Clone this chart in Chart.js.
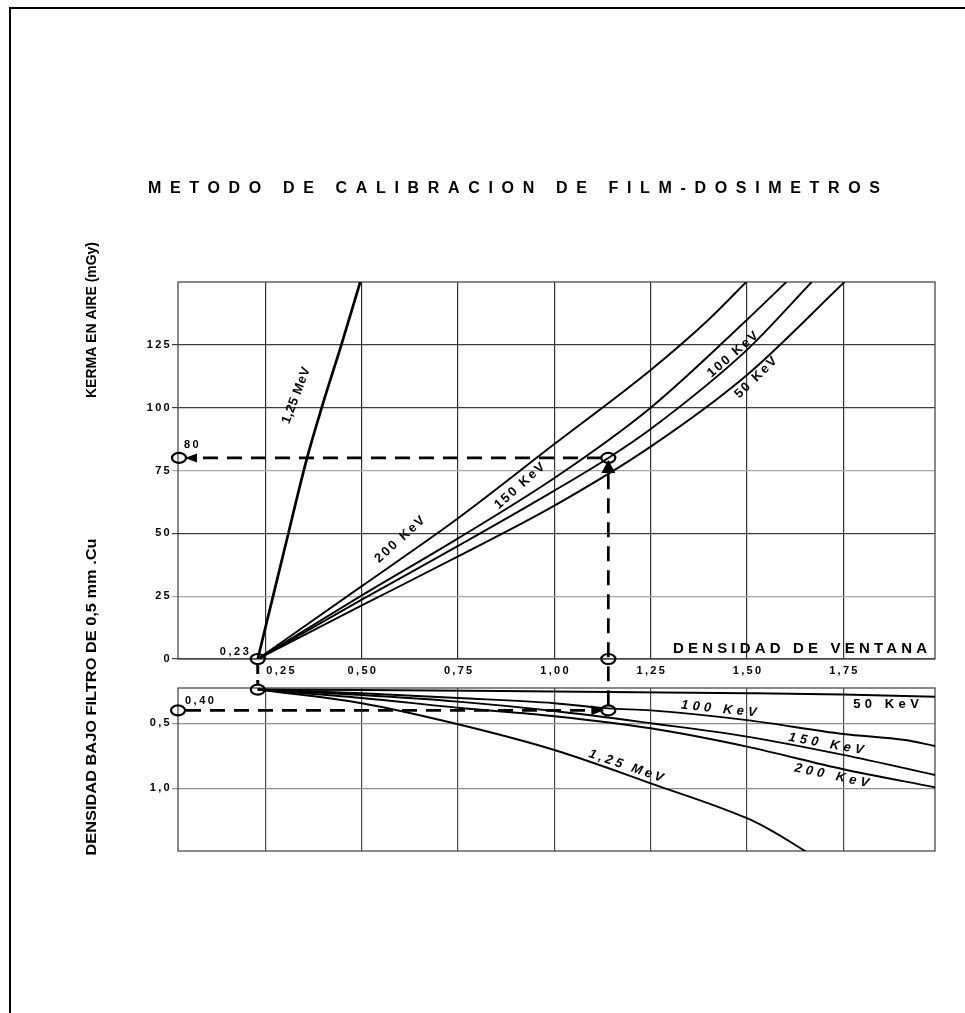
<!DOCTYPE html>
<html>
<head>
<meta charset="utf-8">
<title>Metodo de calibracion de film-dosimetros</title>
<script src="https://cdn.jsdelivr.net/npm/chart.js@4.4.1/dist/chart.umd.min.js"></script>
<style>
  html, body { margin: 0; padding: 0; background: #fff; }
  #hoja { position: relative; width: 965px; height: 1013px; overflow: hidden; background: #fff; }
  #marco { position: absolute; left: 9px; top: 7px; width: 960px; height: 1010px;
           border-left: 2px solid #000; border-top: 2px solid #000; }
  canvas { position: absolute; left: 0; top: 0; }
</style>
</head>
<body>
<div id="hoja">
  <div id="marco"></div>
  <canvas id="kerma" width="965" height="1013"></canvas>
  <canvas id="filtro" width="965" height="1013"></canvas>
</div>
<script>
// ---- Ejes -------------------------------------------------------------
const ticksVentana = [0.25, 0.50, 0.75, 1.00, 1.25, 1.50, 1.75];
const etiquetasVentana = ['0,25', '0,50', '0,75', '1,00', '1,25', '1,50', '1,75'];
const ticksKerma = [0, 25, 50, 75, 100, 125];
const etiquetasKerma = ['0', '25', '50', '75', '100', '125'];
const ticksFiltro = [0.5, 1.0];
const etiquetasFiltro = ['0,5', '1,0'];

// ---- Kerma en aire (mGy) frente a densidad de ventana ------------------
const ventanaK_125MeV = [0.23, 0.30, 0.358, 0.396, 0.447, 0.496];
const kerma_125MeV    = [0, 44, 80, 100, 125, 150];
const ventanaK_200keV = [0.23, 0.50, 0.75, 1.00, 1.25, 1.40, 1.498];
const kerma_200keV    = [0, 29, 56, 85.5, 115, 135, 150];
const ventanaK_150keV = [0.23, 0.50, 0.75, 1.00, 1.25, 1.50, 1.602];
const kerma_150keV    = [0, 25.3, 48, 72, 100, 135, 150];
const ventanaK_100keV = [0.23, 0.50, 0.75, 1.00, 1.14, 1.25, 1.50, 1.668];
const kerma_100keV    = [0, 23.6, 45, 67, 80, 91.5, 123, 150];
const ventanaK_50keV  = [0.23, 0.50, 0.75, 1.00, 1.25, 1.50, 1.753];
const kerma_50keV     = [0, 21.3, 40.8, 61, 84.5, 113, 150];

// ---- Densidad bajo filtro de 0,5 mm Cu frente a densidad de ventana ----
const ventanaF_125MeV = [0.23, 0.50, 0.75, 1.00, 1.25, 1.50, 1.56, 1.655];
const filtro_125MeV   = [0.24, 0.345, 0.507, 0.705, 0.961, 1.23, 1.32, 1.49];
const ventanaF_200keV = [0.23, 0.50, 0.75, 1.00, 1.25, 1.50, 1.75, 1.988];
const filtro_200keV   = [0.24, 0.305, 0.38, 0.445, 0.538, 0.679, 0.853, 0.992];
const ventanaF_150keV = [0.23, 0.50, 0.75, 1.00, 1.25, 1.50, 1.75, 1.988];
const filtro_150keV   = [0.24, 0.282, 0.333, 0.405, 0.499, 0.602, 0.743, 0.897];
const ventanaF_100keV = [0.23, 0.50, 0.75, 1.00, 1.14, 1.25, 1.50, 1.75, 1.91, 1.988];
const filtro_100keV   = [0.24, 0.268, 0.305, 0.345, 0.385, 0.40, 0.475, 0.582, 0.628, 0.674];
const ventanaF_50keV  = [0.23, 0.50, 1.00, 1.50, 1.75, 1.988];
const filtro_50keV    = [0.24, 0.243, 0.255, 0.268, 0.278, 0.295];

// ---- Ejemplo de lectura ------------------------------------------------
const densidadBase   = 0.23;   // velo de base en ventana
const filtroBase     = 0.24;   // velo de base bajo filtro
const lecturaFiltro  = 0.40;
const lecturaVentana = 1.14;
const lecturaKerma   = 80;

// Rango de los ejes
const ventanaMin = 0.023, ventanaMax = 1.988;
const kermaMin = 0, kermaMax = 150;
const filtroMin = 0.228, filtroMax = 1.482;

const F = '"Liberation Sans", Arial, Helvetica, sans-serif';

function pares(xs, ys) { return xs.map((x, i) => ({ x: x, y: ys[i] })); }
function serie(nombre, xs, ys, ancho) {
  return { label: nombre, data: pares(xs, ys), borderColor: '#000', borderWidth: ancho,
           pointRadius: 0, showLine: true, fill: false, cubicInterpolationMode: 'monotone' };
}

// Texto con espaciado entre letras; si se da "ancho", el espaciado se ajusta a ese ancho
function texto(ctx, t, x, y, o) {
  ctx.save();
  ctx.font = o.font;
  ctx.letterSpacing = '0px';
  const n = [...t].length;
  const natural = ctx.measureText(t).width;
  let esp = o.ls || 0;
  if (o.ancho != null && n > 1) esp = (o.ancho - natural) / (n - 1);
  ctx.letterSpacing = esp + 'px';
  const total = natural + esp * (n - 1);
  ctx.translate(x, y);
  if (o.ang) ctx.rotate(o.ang * Math.PI / 180);
  ctx.textAlign = 'left';
  ctx.textBaseline = o.base || 'alphabetic';
  ctx.fillStyle = '#000';
  const al = o.align || 'left';
  const x0 = al === 'left' ? 0 : (al === 'center' ? -total / 2 : -total);
  ctx.fillText(t, x0, 0);
  ctx.restore();
}
// Texto girado y escalado horizontalmente a un ancho dado
function textoAjustado(ctx, t, cx, cy, font, ancho, ang) {
  ctx.save();
  ctx.font = font;
  ctx.letterSpacing = '0px';
  const natural = ctx.measureText(t).width;
  ctx.translate(cx, cy);
  ctx.rotate(ang * Math.PI / 180);
  ctx.scale(ancho / natural, 1);
  ctx.textAlign = 'center';
  ctx.textBaseline = 'middle';
  ctx.fillStyle = '#000';
  ctx.fillText(t, 0, 0);
  ctx.restore();
}
function elipse(ctx, x, y) {
  ctx.save();
  ctx.beginPath();
  ctx.ellipse(x, y, 7, 5, 0, 0, Math.PI * 2);
  ctx.lineWidth = 2.2;
  ctx.strokeStyle = '#000';
  ctx.stroke();
  ctx.restore();
}
function flecha(ctx, x, y, dir, largo, medio) {
  ctx.save();
  ctx.beginPath();
  ctx.fillStyle = '#000';
  if (dir === 'izq') { ctx.moveTo(x, y); ctx.lineTo(x + largo, y - medio); ctx.lineTo(x + largo, y + medio); }
  if (dir === 'der') { ctx.moveTo(x, y); ctx.lineTo(x - largo, y - medio); ctx.lineTo(x - largo, y + medio); }
  if (dir === 'arr') { ctx.moveTo(x, y); ctx.lineTo(x - medio, y + largo); ctx.lineTo(x + medio, y + largo); }
  ctx.closePath();
  ctx.fill();
  ctx.restore();
}
function marcoArea(ctx, a) {
  ctx.save();
  ctx.strokeStyle = '#4a4a4a';
  ctx.lineWidth = 1.3;
  ctx.strokeRect(a.left, a.top, a.right - a.left, a.bottom - a.top);
  ctx.restore();
}

function ejeVentana(colorLinea) {
  return {
    type: 'linear', min: ventanaMin, max: ventanaMax,
    afterBuildTicks: s => { s.ticks = ticksVentana.map(v => ({ value: v })); },
    afterFit: s => { s.height = 0; },
    ticks: { display: false },
    grid: { color: colorLinea, lineWidth: 1.2, drawTicks: false },
    border: { display: false }
  };
}

const fuenteTick = { family: F, size: 11, weight: 'bold' };

// ---- Gráfico superior: kerma -------------------------------------------
const decorKerma = {
  id: 'decorKerma',
  beforeDraw(chart) { chart.ctx.letterSpacing = '2.3px'; },
  beforeDatasetsDraw(chart) { marcoArea(chart.ctx, chart.chartArea); },
  afterDraw(chart) {
    const ctx = chart.ctx;
    const xs = chart.scales.x, ys = chart.scales.y;
    texto(ctx, 'METODO DE CALIBRACION DE FILM-DOSIMETROS', 148, 193,
          { font: 'bold 16px ' + F, ancho: 732 });
    textoAjustado(ctx, 'KERMA EN AIRE (mGy)', 92, 320, 'bold 14px ' + F, 156, -90);
    texto(ctx, 'DENSIDAD DE VENTANA', 673, 652.5, { font: 'bold 15px ' + F, ancho: 254 });
    ticksVentana.forEach((v, i) => {
      const dx = i === 0 ? 15 : 0;
      texto(ctx, etiquetasVentana[i], xs.getPixelForValue(v) + dx, 673.5,
            { font: 'bold 11px ' + F, ls: 2.3, align: 'center' });
    });
    const rot = [
      ['1,25 MeV', 0.330, 104.8, -69, 0.5],
      ['200 KeV', 0.599, 47.5, -42, 2],
      ['150 KeV', 0.910, 68.8, -41.6, 2],
      ['100 KeV', 1.463, 121.1, -41, 2],
      ['50 KeV', 1.523, 111.9, -44, 2]
    ];
    rot.forEach(r => texto(ctx, r[0], xs.getPixelForValue(r[1]), ys.getPixelForValue(r[2]),
      { font: 'bold 13px ' + F, ls: r[4], align: 'center', base: 'middle', ang: r[3] }));
  }
};

const graficoKerma = new Chart(document.getElementById('kerma'), {
  type: 'scatter',
  data: {
    datasets: [
      serie('1,25 MeV', ventanaK_125MeV, kerma_125MeV, 2.7),
      serie('200 KeV', ventanaK_200keV, kerma_200keV, 1.9),
      serie('150 KeV', ventanaK_150keV, kerma_150keV, 1.9),
      serie('100 KeV', ventanaK_100keV, kerma_100keV, 1.9),
      serie('50 KeV', ventanaK_50keV, kerma_50keV, 1.9)
    ]
  },
  options: {
    responsive: false, animation: false, devicePixelRatio: 1, events: [],
    layout: { padding: { left: 0, top: 282, right: 30, bottom: 354 } },
    plugins: { legend: { display: false }, tooltip: { enabled: false }, title: { display: false } },
    scales: {
      x: ejeVentana('#333'),
      y: {
        type: 'linear', min: kermaMin, max: kermaMax,
        afterBuildTicks: s => { s.ticks = ticksKerma.map(v => ({ value: v })); },
        afterFit: s => { s.width = 178; },
        ticks: { color: '#000', font: fuenteTick, padding: 0,
                 callback: (v, i) => etiquetasKerma[i] },
        grid: { color: c => (c.tick && (c.tick.value === 75 || c.tick.value === 25)) ? '#a8a8a8' : '#3c3c3c',
                lineWidth: 1.2, tickLength: 6, drawTicks: true },
        border: { display: false }
      }
    }
  },
  plugins: [decorKerma]
});

// ---- Gráfico inferior: densidad bajo filtro ----------------------------
const decorFiltro = {
  id: 'decorFiltro',
  beforeDraw(chart) { chart.ctx.letterSpacing = '2.3px'; },
  beforeDatasetsDraw(chart) { marcoArea(chart.ctx, chart.chartArea); },
  afterDraw(chart) {
    const ctx = chart.ctx;
    const xb = chart.scales.x, yb = chart.scales.y;
    const xa = graficoKerma.scales.x, ya = graficoKerma.scales.y;

    textoAjustado(ctx, 'DENSIDAD BAJO FILTRO DE 0,5 mm .Cu', 92, 697, 'bold 14px ' + F, 317, -90);

    const rot = [
      ['100 KeV', 1.427, 0.389, 6, 4.2, 'italic bold'],
      ['50 KeV', 1.861, 0.358, 0, 4.5, 'bold'],
      ['150 KeV', 1.705, 0.658, 10, 4.2, 'italic bold'],
      ['200 KeV', 1.72, 0.903, 12, 4.2, 'italic bold'],
      ['1,25 MeV', 1.186, 0.828, 19, 3.2, 'italic bold']
    ];
    rot.forEach(r => texto(ctx, r[0], xb.getPixelForValue(r[1]), yb.getPixelForValue(r[2]),
      { font: r[5] + ' 13px ' + F, ls: r[4], align: 'center', base: 'middle', ang: r[3] }));

    // Recorrido de la lectura entre ambos gráficos
    const xMin = xa.getPixelForValue(ventanaMin);
    const xL = xa.getPixelForValue(lecturaVentana);
    const xB = xa.getPixelForValue(densidadBase);
    const yK = ya.getPixelForValue(lecturaKerma);
    const yK0 = ya.getPixelForValue(0);
    const yF = yb.getPixelForValue(lecturaFiltro);
    const yF0 = yb.getPixelForValue(filtroBase);

    ctx.save();
    ctx.strokeStyle = '#000';
    ctx.lineWidth = 2.7;
    ctx.setLineDash([15, 9]);
    ctx.beginPath();
    ctx.moveTo(xMin + 25, yK); ctx.lineTo(xL - 7, yK);
    ctx.moveTo(xL, yF - 5); ctx.lineTo(xL, yK + 14);
    ctx.moveTo(xMin + 8, yF); ctx.lineTo(xL - 17, yF);
    ctx.stroke();
    ctx.setLineDash([10, 6]);
    ctx.lineWidth = 3;
    ctx.beginPath();
    ctx.moveTo(xB, yK0 + 5); ctx.lineTo(xB, yF0 - 5);
    ctx.stroke();
    ctx.restore();

    flecha(ctx, xMin + 7, yK, 'izq', 12, 4.5);
    flecha(ctx, xL, yK + 2, 'arr', 13, 7);
    flecha(ctx, xL - 4, yF, 'der', 13, 5);

    elipse(ctx, xMin + 1, yK);
    elipse(ctx, xL, yK);
    elipse(ctx, xL, yK0);
    elipse(ctx, xB, yK0);
    elipse(ctx, xMin, yF);
    elipse(ctx, xL, yF);
    elipse(ctx, xB, yF0);

    texto(ctx, '80', xMin + 6, yK - 10, { font: 'bold 11px ' + F, ls: 2.5 });
    texto(ctx, '0,40', xMin + 7, yF - 6, { font: 'bold 11px ' + F, ls: 2.5 });
    texto(ctx, '0,23', xB - 9, yK0 - 4, { font: 'bold 11px ' + F, ls: 2.5, align: 'right' });
  }
};

const graficoFiltro = new Chart(document.getElementById('filtro'), {
  type: 'scatter',
  data: {
    datasets: [
      serie('1,25 MeV', ventanaF_125MeV, filtro_125MeV, 1.9),
      serie('200 KeV', ventanaF_200keV, filtro_200keV, 1.9),
      serie('150 KeV', ventanaF_150keV, filtro_150keV, 1.9),
      serie('100 KeV', ventanaF_100keV, filtro_100keV, 1.9),
      serie('50 KeV', ventanaF_50keV, filtro_50keV, 1.9)
    ]
  },
  options: {
    responsive: false, animation: false, devicePixelRatio: 1, events: [],
    layout: { padding: { left: 0, top: 688, right: 30, bottom: 162 } },
    plugins: { legend: { display: false }, tooltip: { enabled: false }, title: { display: false } },
    scales: {
      x: ejeVentana('#4a4a4a'),
      y: {
        type: 'linear', min: filtroMin, max: filtroMax, reverse: true,
        afterBuildTicks: s => { s.ticks = ticksFiltro.map(v => ({ value: v })); },
        afterFit: s => { s.width = 178; },
        ticks: { color: '#000', font: fuenteTick, padding: 0,
                 callback: (v, i) => etiquetasFiltro[i] },
        grid: { color: '#8e8e8e', lineWidth: 1.2, tickLength: 6, drawTicks: true },
        border: { display: false }
      }
    }
  },
  plugins: [decorFiltro]
});
</script>
</body>
</html>
